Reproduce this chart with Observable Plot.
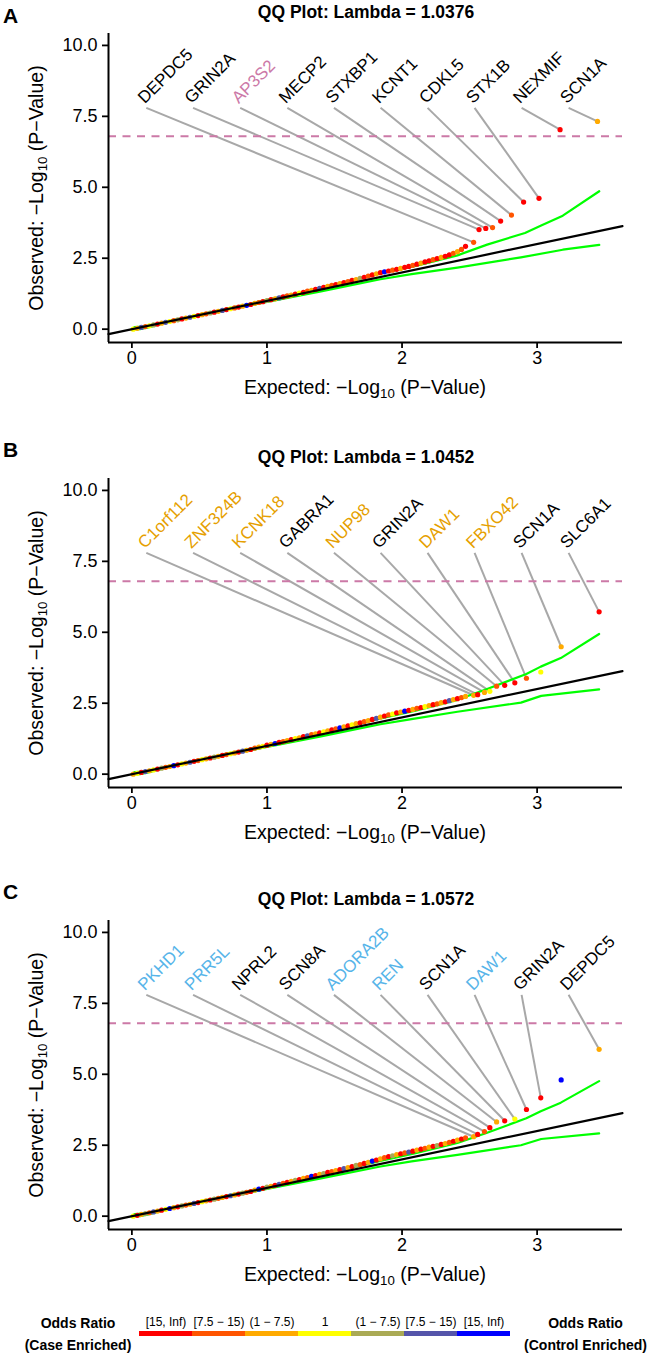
<!DOCTYPE html>
<html>
<head>
<meta charset="utf-8">
<script src="https://cdn.jsdelivr.net/npm/d3@7"></script>
<script src="https://cdn.jsdelivr.net/npm/@observablehq/plot@0.6"></script>
<style>
  html, body { margin: 0; padding: 0; background: #fff; }
  body { font-family: "Liberation Sans", Arial, Helvetica, sans-serif; }
  #root { position: relative; width: 650px; height: 1358px; overflow: hidden; }
  .panel { position: absolute; left: 0; width: 650px; height: 444px; }
  .panel svg { position: absolute; left: 0; top: 0; overflow: visible; }
  .abs { position: absolute; white-space: nowrap; color: #000; line-height: 1; }
  .letter { font-weight: bold; font-size: 21px; transform: translate(0, -50%); }
  .title { font-weight: bold; font-size: 17.5px; transform: translate(-50%, -50%); }
  .xt { font-size: 19.5px; transform: translate(-50%, -50%); }
  .yt { font-size: 19.5px; transform: translate(-50%, -50%) rotate(-90deg); }
  .abs sub { font-size: 0.68em; vertical-align: -0.3em; line-height: 0; }
  .leg { font-weight: bold; font-size: 14px; transform: translate(-50%, -50%); }
</style>
</head>
<body>
<div id="root"></div>
<script>
// ---------------- data ----------------
const oddsCategories = ["[15, Inf)", "[7.5 − 15)", "(1 − 7.5)", "1", "(1 − 7.5)", "[7.5 − 15)", "[15, Inf)"];
const oddsColors = ["#FF0000", "#FF5500", "#FFAA00", "#FFFF00", "#AAAA55", "#5555AA", "#0000FF"];

const panelLetters = ["A", "B", "C"];
const panelTitles = ["QQ Plot: Lambda = 1.0376", "QQ Plot: Lambda = 1.0452", "QQ Plot: Lambda = 1.0572"];

const xTicks = [0, 1, 2, 3];
const yTicks = [0, 2.5, 5, 7.5, 10];
const xDomain = [-0.173, 3.632];
const yDomain = [-0.47, 10.42];
const significanceLine = 6.8;

// label anchor slots (expected axis) and height of label anchors
const labelSlotsX = [0.107, 0.453, 0.802, 1.151, 1.496, 1.841, 2.189, 2.537, 2.885, 3.233];
const labelY = 7.8;

// expected -log10(p) of the bulk of genes (shared by the three panels)
const cloudExpected = [
  0.01, 0.04, 0.07, 0.10, 0.13, 0.16, 0.19, 0.22, 0.25, 0.28, 0.31, 0.34, 0.37, 0.40, 0.43, 0.46, 0.49,
  0.52, 0.55, 0.58, 0.61, 0.64, 0.67, 0.70, 0.73, 0.76, 0.79, 0.82, 0.85, 0.88, 0.91, 0.94, 0.97, 1.00,
  1.03, 1.06, 1.09, 1.12, 1.15, 1.18, 1.21, 1.24, 1.27, 1.30, 1.33, 1.36, 1.39, 1.42, 1.45, 1.48, 1.51,
  1.54, 1.57, 1.60, 1.63, 1.66, 1.69, 1.72, 1.75, 1.78, 1.81, 1.84, 1.87, 1.90, 1.93, 1.96, 1.99, 2.02,
  2.05, 2.08, 2.11, 2.14, 2.17, 2.20, 2.23, 2.26, 2.29, 2.32, 2.35, 2.38, 2.41, 2.44, 2.47
];

// ---- Panel A ----
const genesA = ["DEPDC5", "GRIN2A", "AP3S2", "MECP2", "STXBP1", "KCNT1", "CDKL5", "STX1B", "NEXMIF", "SCN1A"];
const geneExpA = [2.53, 2.57, 2.62, 2.67, 2.73, 2.81, 2.90, 3.014, 3.17, 3.447];
const geneObsA = [3.06, 3.51, 3.55, 3.58, 3.81, 4.02, 4.48, 4.61, 7.03, 7.32];
const geneOrA = [1, 0, 0, 1, 0, 1, 0, 0, 0, 2];
const geneHighlightA = [0, 0, 1, 0, 0, 0, 0, 0, 0, 0];
const cloudObsA = [
  0.00, 0.03, 0.06, 0.09, 0.12, 0.15, 0.18, 0.21, 0.24, 0.27, 0.30, 0.33, 0.36, 0.39, 0.42, 0.45, 0.48,
  0.51, 0.54, 0.57, 0.60, 0.63, 0.66, 0.69, 0.72, 0.75, 0.78, 0.81, 0.84, 0.87, 0.91, 0.94, 0.97, 1.01,
  1.04, 1.07, 1.10, 1.14, 1.17, 1.20, 1.24, 1.27, 1.30, 1.34, 1.37, 1.40, 1.44, 1.47, 1.51, 1.54, 1.57,
  1.61, 1.64, 1.68, 1.72, 1.75, 1.79, 1.83, 1.87, 1.91, 1.95, 1.99, 2.02, 2.05, 2.08, 2.11, 2.14, 2.18,
  2.21, 2.25, 2.29, 2.33, 2.37, 2.41, 2.45, 2.49, 2.53, 2.57, 2.62, 2.67, 2.73, 2.81, 2.92
];
const cloudOrA = [
  3,2,5,1,3,4,0,2,5,3, 1,4,0,2,5,3,0,2,1,4, 0,2,5,0,3,1,0,2,6,0, 2,1,0,4,0,2,5,0,1,2,
  0,3,0,1,2,0,5,0,2,1, 0,2,0,1,0,2,4,0,1,0, 2,0,6,0,1,0,2,0,0,1, 0,2,0,0,1,0,2,0,0,1, 2,1,0
];
const envUpperA = [[0.0,0.0],[0.02,0.07],[0.12,0.1],[0.3,0.31],[0.7,0.72],[1.0,1.03],[1.4,1.46],[1.84,1.96],[2.1,2.23],[2.41,2.6],[2.63,2.98],[2.91,3.39],[3.03,3.65],[3.19,4.0],[3.46,4.86]];
const envLowerA = [[0.0,0.0],[0.06,0.0],[0.12,0.06],[0.3,0.29],[0.7,0.67],[1.0,0.96],[1.4,1.33],[1.84,1.76],[2.07,1.94],[2.41,2.17],[2.88,2.53],[3.19,2.8],[3.46,2.97]];

// ---- Panel B ----
const genesB = ["C1orf112", "ZNF324B", "KCNK18", "GABRA1", "NUP98", "GRIN2A", "DAW1", "FBXO42", "SCN1A", "SLC6A1"];
const geneExpB = [2.53, 2.56, 2.61, 2.65, 2.70, 2.76, 2.835, 2.921, 3.178, 3.459];
const geneObsB = [2.78, 2.80, 2.88, 2.92, 3.10, 3.13, 3.22, 3.38, 4.49, 5.72];
const geneOrB = [2, 0, 2, 3, 1, 0, 0, 1, 2, 0];
const geneHighlightB = [1, 1, 1, 0, 1, 0, 1, 1, 0, 0];
const cloudObsB = [
  0.00, 0.03, 0.06, 0.09, 0.12, 0.15, 0.18, 0.21, 0.24, 0.27, 0.30, 0.33, 0.36, 0.39, 0.42, 0.45, 0.48,
  0.51, 0.54, 0.57, 0.60, 0.63, 0.66, 0.69, 0.72, 0.75, 0.78, 0.81, 0.84, 0.87, 0.92, 0.95, 0.98, 1.02,
  1.05, 1.08, 1.12, 1.15, 1.18, 1.22, 1.25, 1.28, 1.32, 1.35, 1.39, 1.42, 1.46, 1.49, 1.53, 1.56, 1.60,
  1.63, 1.67, 1.70, 1.74, 1.78, 1.81, 1.85, 1.89, 1.93, 1.97, 2.01, 2.05, 2.09, 2.12, 2.16, 2.19, 2.22,
  2.25, 2.28, 2.32, 2.35, 2.38, 2.42, 2.45, 2.48, 2.52, 2.55, 2.59, 2.63, 2.66, 2.70, 2.74
];
const cloudOrB = [
  2,3,0,5,2,3,0,4,1,2, 6,0,3,2,5,0,1,3,2,0, 4,2,0,1,3,2,0,5,2,0, 1,2,3,0,2,6,0,1,2,0,
  3,2,0,5,1,2,0,3,2,0, 1,6,2,0,3,2,0,1,2,0, 5,2,0,1,3,0,2,6,0,2, 1,0,3,2,0,1,2,0,5,2, 0,1,2
];
const extraB = [[3.027, 3.60, 3]];
const envUpperB = [[0.0,0.0],[0.02,0.07],[0.12,0.1],[0.3,0.31],[0.7,0.72],[1.0,1.03],[1.4,1.46],[1.84,1.96],[2.1,2.24],[2.41,2.62],[2.63,3.0],[2.92,3.53],[3.027,3.79],[3.175,4.09],[3.459,4.94]];
const envLowerB = [[0.0,0.0],[0.06,0.0],[0.12,0.06],[0.3,0.29],[0.7,0.67],[1.0,0.96],[1.4,1.33],[1.84,1.76],[2.07,1.94],[2.41,2.2],[2.88,2.52],[3.03,2.76],[3.459,2.99]];

// ---- Panel C ----
const genesC = ["PKHD1", "PRR5L", "NPRL2", "SCN8A", "ADORA2B", "REN", "SCN1A", "DAW1", "GRIN2A", "DEPDC5"];
const geneExpC = [2.53, 2.56, 2.61, 2.65, 2.70, 2.76, 2.835, 2.921, 3.027, 3.459];
const geneObsC = [2.80, 2.88, 2.98, 3.12, 3.32, 3.36, 3.42, 3.76, 4.17, 5.88];
const geneOrC = [2, 0, 1, 0, 2, 0, 3, 0, 0, 2];
const geneHighlightC = [1, 1, 0, 0, 1, 1, 0, 1, 0, 0];
const cloudObsC = [
  0.00, 0.03, 0.06, 0.09, 0.12, 0.15, 0.18, 0.21, 0.24, 0.27, 0.30, 0.33, 0.36, 0.39, 0.42, 0.45, 0.48,
  0.51, 0.54, 0.57, 0.60, 0.63, 0.66, 0.69, 0.72, 0.75, 0.78, 0.81, 0.84, 0.87, 0.92, 0.95, 0.98, 1.02,
  1.05, 1.09, 1.12, 1.16, 1.19, 1.23, 1.26, 1.29, 1.33, 1.36, 1.40, 1.43, 1.47, 1.50, 1.54, 1.57, 1.61,
  1.64, 1.68, 1.71, 1.75, 1.79, 1.82, 1.86, 1.90, 1.94, 1.98, 2.02, 2.06, 2.10, 2.13, 2.17, 2.20, 2.23,
  2.26, 2.29, 2.33, 2.36, 2.39, 2.43, 2.46, 2.49, 2.53, 2.56, 2.60, 2.64, 2.68, 2.72, 2.76
];
const cloudOrC = [
  3,0,2,4,1,5,2,0,3,6, 2,0,4,1,2,5,0,3,2,0, 4,1,2,0,5,2,0,4,1,0, 2,6,0,4,2,0,5,1,0,2,
  4,0,2,1,6,0,2,4,0,1, 2,0,5,2,0,4,1,0,2,6, 0,2,1,0,4,2,0,1,5,0, 2,0,1,2,0,4,0,2,1,0, 2,0,1
];
const extraC = [[3.178, 4.80, 6]];
const envUpperC = [[0.0,0.0],[0.02,0.07],[0.12,0.1],[0.3,0.31],[0.7,0.72],[1.0,1.03],[1.4,1.45],[1.84,1.95],[2.1,2.22],[2.41,2.58],[2.63,2.94],[2.92,3.45],[3.027,3.7],[3.175,4.0],[3.459,4.76]];
const envLowerC = [[0.0,0.0],[0.06,0.0],[0.12,0.06],[0.3,0.29],[0.7,0.67],[1.0,0.96],[1.4,1.33],[1.84,1.75],[2.07,1.93],[2.41,2.16],[2.88,2.5],[3.03,2.72],[3.459,2.92]];

// ---------------- drawing ----------------
const FONT = '"Liberation Sans", Arial, Helvetica, sans-serif';
const panelTops = [0, 445, 887];
const highlightColors = ["#CC79A7", "#E69F00", "#56B4E9"];
const panels = [
  {genes: genesA, exp: geneExpA, obs: geneObsA, or: geneOrA, hl: geneHighlightA, obsCloud: cloudObsA, orCloud: cloudOrA, extra: [], up: envUpperA, lo: envLowerA},
  {genes: genesB, exp: geneExpB, obs: geneObsB, or: geneOrB, hl: geneHighlightB, obsCloud: cloudObsB, orCloud: cloudOrB, extra: extraB, up: envUpperB, lo: envLowerB},
  {genes: genesC, exp: geneExpC, obs: geneObsC, or: geneOrC, hl: geneHighlightC, obsCloud: cloudObsC, orCloud: cloudOrC, extra: extraC, up: envUpperC, lo: envLowerC}
];

const root = document.getElementById("root");

function addText(parent, cls, html, left, top) {
  const d = document.createElement("div");
  d.className = "abs " + cls;
  d.innerHTML = html;
  d.style.left = left + "px";
  d.style.top = top + "px";
  parent.appendChild(d);
  return d;
}

panels.forEach((p, k) => {
  const hits = p.genes.map((g, i) => ({
    gene: g, x: p.exp[i], y: p.obs[i], c: p.or[i],
    sx: labelSlotsX[i], col: p.hl[i] ? highlightColors[k] : "#000000"
  }));
  const cloud = cloudExpected.map((x, i) => ({x, y: p.obsCloud[i], c: p.orCloud[i]}))
    .concat(p.extra.map(([x, y, c]) => ({x, y, c})));
  const pts = cloud.concat(hits);

  const chart = Plot.plot({
    width: 650,
    height: 444,
    marginLeft: 108,
    marginRight: 28,
    marginTop: 33,
    marginBottom: 102,
    x: {domain: xDomain},
    y: {domain: yDomain},
    color: {type: "identity"},
    style: {fontFamily: FONT, fontSize: "18px", color: "#000", background: "transparent"},
    marks: [
      Plot.link(hits, {x1: "sx", y1: () => labelY, x2: "x", y2: "y", stroke: "#A8A8A8", strokeWidth: 2}),
      Plot.line(p.up, {x: d => d[0], y: d => d[1], stroke: "#00FF00", strokeWidth: 2.2}),
      Plot.line(p.lo, {x: d => d[0], y: d => d[1], stroke: "#00FF00", strokeWidth: 2.2}),
      Plot.dot(pts, {x: "x", y: "y", r: 2.6, fill: d => oddsColors[d.c], stroke: "none"}),
      Plot.line(xDomain, {x: d => d, y: d => d, stroke: "#000", strokeWidth: 2.2}),
      Plot.ruleY([significanceLine], {stroke: "#CC79A7", strokeWidth: 2, strokeDasharray: "8,6.5"}),
      Plot.text(hits, {
        x: "sx", y: () => labelY, text: "gene", rotate: -45,
        textAnchor: "start", lineAnchor: "bottom", dx: -1.5, dy: -3.5,
        fontSize: 17, fill: "col"
      }),
      Plot.axisY({ticks: yTicks, tickFormat: d => d.toFixed(1), tickSize: 6, tickPadding: 5, strokeWidth: 1.8, label: null, fontSize: 18}),
      Plot.axisX({ticks: xTicks, tickFormat: d => String(d), tickSize: 6, tickPadding: 3, strokeWidth: 1.8, label: null, fontSize: 18}),
      Plot.ruleX([xDomain[0]], {stroke: "#000", strokeWidth: 2}),
      Plot.ruleY([yDomain[0]], {stroke: "#000", strokeWidth: 2})
    ]
  });

  const div = document.createElement("div");
  div.className = "panel";
  div.style.top = panelTops[k] + "px";
  div.appendChild(chart);
  root.appendChild(div);

  addText(div, "letter", panelLetters[k], 3, k === 0 ? 14.5 : 4);
  addText(div, "title", panelTitles[k], 366, 12.5);
  addText(div, "xt", "Expected: −Log<sub>10</sub> (P−Value)", 365, 388);
  addText(div, "yt", "Observed: −Log<sub>10</sub> (P−Value)", 37, 187.5);
});

// ---------------- legend ----------------
const legendDiv = document.createElement("div");
legendDiv.className = "panel";
legendDiv.style.top = "1310px";
legendDiv.style.height = "48px";
root.appendChild(legendDiv);

const legendItems = oddsCategories.map((label, i) => ({key: i, label, color: oddsColors[i]}));
const legend = Plot.plot({
  width: 650,
  height: 48,
  marginLeft: 137,
  marginRight: 137.5,
  marginTop: 21,
  marginBottom: 22,
  x: {type: "band", domain: legendItems.map(d => d.key), padding: 0, axis: null},
  color: {type: "identity"},
  style: {fontFamily: FONT, fontSize: "12px", color: "#000", background: "transparent"},
  marks: [
    Plot.cell(legendItems, {x: "key", fill: "color", inset: 0}),
    Plot.text(legendItems, {x: "key", text: "label", frameAnchor: "top", dy: -9.5, lineAnchor: "middle", fontSize: 12, fill: "#000"})
  ]
});
legendDiv.appendChild(legend);
addText(legendDiv, "leg", "Odds Ratio", 78, 13);
addText(legendDiv, "leg", "(Case Enriched)", 78, 35);
addText(legendDiv, "leg", "Odds Ratio", 585.5, 13);
addText(legendDiv, "leg", "(Control Enriched)", 585.5, 35);
</script>
</body>
</html>
